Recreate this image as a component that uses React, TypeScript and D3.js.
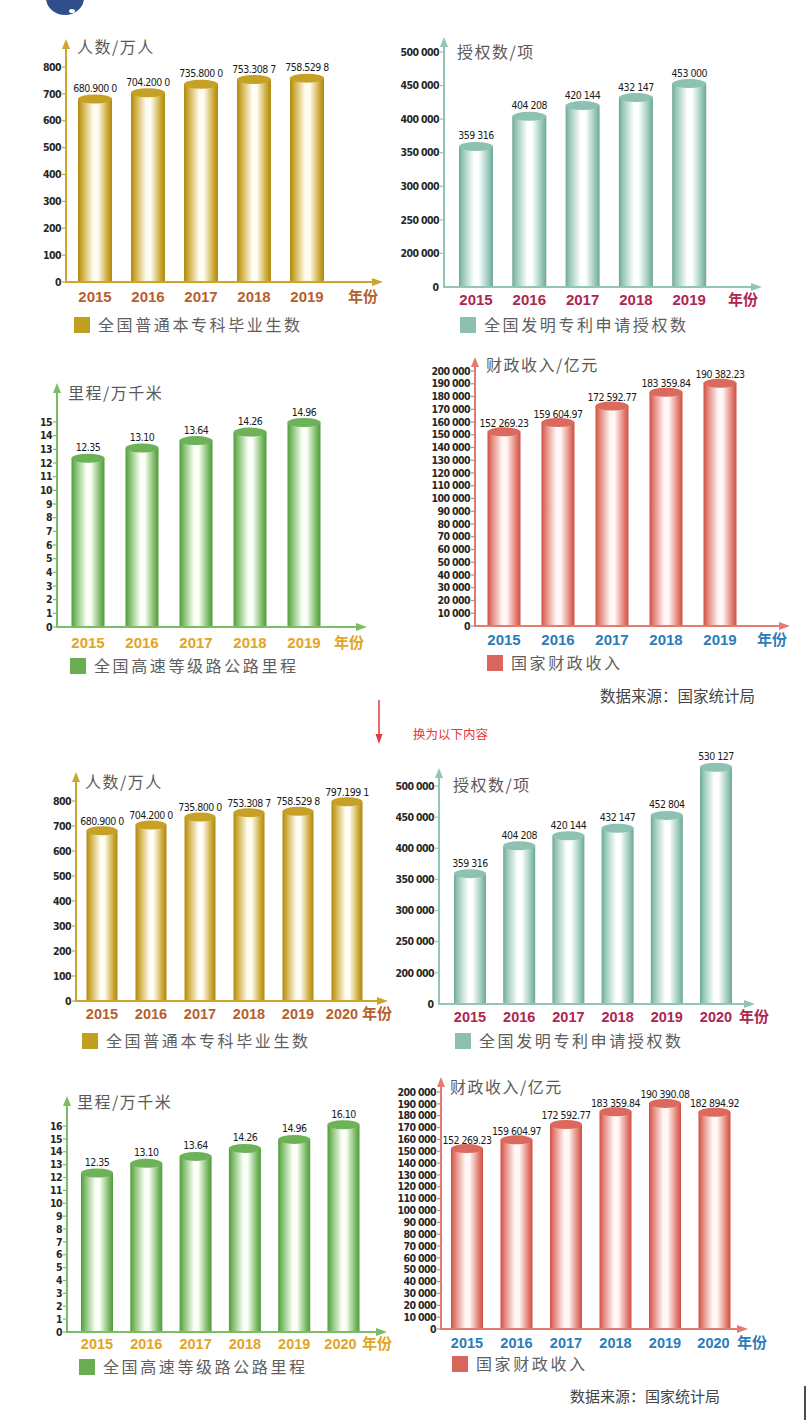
import * as d3 from 'd3'

// ---- data ----
const years5 = ['2015', '2016', '2017', '2018', '2019']
const years6 = ['2015', '2016', '2017', '2018', '2019', '2020']

const gradValues5 = [680.9, 704.2, 735.8, 753.3087, 758.5298]
const gradValues6 = [680.9, 704.2, 735.8, 753.3087, 758.5298, 797.1991]
const patentValues5 = [359316, 404208, 420144, 432147, 453000]
const patentValues6 = [359316, 404208, 420144, 432147, 452804, 530127]
const roadValues5 = [12.35, 13.1, 13.64, 14.26, 14.96]
const roadValues6 = [12.35, 13.1, 13.64, 14.26, 14.96, 16.1]
const revenueValues5 = [152269.23, 159604.97, 172592.77, 183359.84, 190382.23]
const revenueValues6 = [152269.23, 159604.97, 172592.77, 183359.84, 190390.08, 182894.92]

const gradTicks = [0, 100, 200, 300, 400, 500, 600, 700, 800]
const patentTicks = [200000, 250000, 300000, 350000, 400000, 450000, 500000]
const roadTicks5 = d3.range(0, 16)
const roadTicks6 = d3.range(0, 17)
const revenueTicks = d3.range(0, 200001, 10000)

const spaced = (v: number) => d3.format(',')(v).replace(/,/g, ' ')
const spaced2 = (v: number) => d3.format(',.2f')(v).replace(/,/g, ' ')
const grad4 = (v: number) => {
  const s = v.toFixed(4)
  return s.slice(0, -1) + ' ' + s.slice(-1)
}

const palettes: Record<string, any> = {
  gold: { dark: '#ad8916', base: '#c9a52e', light: '#fffdf3', cap: '#c6a126', axis: '#cba52c', legend: '#c0a01e', year: '#b5602d' },
  teal: { dark: '#6ea696', base: '#92c5b7', light: '#ffffff', cap: '#8dc1b2', axis: '#92c5b6', legend: '#8cbfb0', year: '#ae2650' },
  green: { dark: '#529a3d', base: '#76b760', light: '#fbfff7', cap: '#6db158', axis: '#7bbd66', legend: '#6aad55', year: '#e2a422' },
  red: { dark: '#cc5045', base: '#e1786d', light: '#fff8f6', cap: '#dc695e', axis: '#e27b70', legend: '#d8665b', year: '#2b7cbb' },
}

const charts = [
  { id: 'a', pal: 'gold', years: years5, values: gradValues5, fmt: grad4, ticks: gradTicks, tickFmt: String, domain: [0, 800], axisX: 66, baseY: 282, topY: 67, tipY: 39, tipX: 383, firstX: 95, step: 53, barW: 34, yearY: 302, lastShift: 0, unitX: 348, title: '人数/万人', titleX: 77, titleY: 53, legend: '全国普通本专科毕业生数', legX: 74, legY: 317, gap: 7 },
  { id: 'b', pal: 'teal', years: years5, values: patentValues5, fmt: spaced, ticks: patentTicks, tickFmt: spaced, domain: [150000, 500000], zero: true, axisX: 444, baseY: 287, topY: 52, tipY: 37, tipX: 762, firstX: 476, step: 53.3, barW: 34, yearY: 305, lastShift: 0, unitX: 728, title: '授权数/项', titleX: 457, titleY: 58, legend: '全国发明专利申请授权数', legX: 460, legY: 317, gap: 7 },
  { id: 'c', pal: 'green', years: years5, values: roadValues5, fmt: (v: number) => v.toFixed(2), ticks: roadTicks5, tickFmt: String, domain: [0, 15], axisX: 57, baseY: 627, topY: 422, tipY: 383, tipX: 367, firstX: 88, step: 54, barW: 33, yearY: 648, lastShift: 0, unitX: 334, title: '里程/万千米', titleX: 68, titleY: 399, legend: '全国高速等级路公路里程', legX: 70, legY: 658, gap: 7 },
  { id: 'd', pal: 'red', years: years5, values: revenueValues5, fmt: spaced2, ticks: revenueTicks, tickFmt: spaced, domain: [0, 200000], axisX: 475, baseY: 626, topY: 371, tipY: 357, tipX: 790, firstX: 504, step: 54, barW: 33, yearY: 645, lastShift: 0, unitX: 757, title: '财政收入/亿元', titleX: 486, titleY: 371, legend: '国家财政收入', legX: 487, legY: 655, gap: 5 },
  { id: 'e', pal: 'gold', years: years6, values: gradValues6, fmt: grad4, ticks: gradTicks, tickFmt: String, domain: [0, 800], axisX: 76, baseY: 1001, topY: 801, tipY: 772, tipX: 388, firstX: 102, step: 49, barW: 31, yearY: 1019, lastShift: -5, unitX: 362, title: '人数/万人', titleX: 85, titleY: 788, legend: '全国普通本专科毕业生数', legX: 82, legY: 1033, gap: 6 },
  { id: 'f', pal: 'teal', years: years6, values: patentValues6, fmt: spaced, ticks: patentTicks, tickFmt: spaced, domain: [150000, 500000], zero: true, axisX: 439, baseY: 1004, topY: 786, tipY: 768, tipX: 755, firstX: 470, step: 49.2, barW: 32, yearY: 1022, lastShift: 0, unitX: 739, title: '授权数/项', titleX: 453, titleY: 791, legend: '全国发明专利申请授权数', legX: 455, legY: 1033, gap: 7 },
  { id: 'g', pal: 'green', years: years6, values: roadValues6, fmt: (v: number) => v.toFixed(2), ticks: roadTicks6, tickFmt: String, domain: [0, 16], axisX: 67, baseY: 1332, topY: 1126, tipY: 1096, tipX: 387, firstX: 97, step: 49.3, barW: 32, yearY: 1349, lastShift: -3, unitX: 362, title: '里程/万千米', titleX: 77, titleY: 1108, legend: '全国高速等级路公路里程', legX: 79, legY: 1359, gap: 7 },
  { id: 'h', pal: 'red', years: years6, values: revenueValues6, fmt: spaced2, ticks: revenueTicks, tickFmt: spaced, domain: [0, 200000], axisX: 441, baseY: 1329, topY: 1092, tipY: 1077, tipX: 748, firstX: 467, step: 49.5, barW: 32, yearY: 1348, lastShift: -1, unitX: 737, title: '财政收入/亿元', titleX: 450, titleY: 1093, legend: '国家财政收入', legX: 452, legY: 1356, gap: 5 },
]

const numFont = '"DejaVu Sans Condensed", "DejaVu Sans", sans-serif'
const yearFont = '"Liberation Sans", Arial, sans-serif'
const cjkFont = '"Noto Sans CJK SC", sans-serif'

function CylinderChart({ cfg }: { cfg: any }) {
  const pal = palettes[cfg.pal]
  const y = d3.scaleLinear().domain(cfg.domain).range([cfg.baseY, cfg.topY])
  const x0 = cfg.firstX - cfg.step / 2
  const x = d3.scaleBand<string>().domain(cfg.years).range([x0, x0 + cfg.step * cfg.years.length])
  const cx = (yr: string) => (x(yr) ?? 0) + x.bandwidth() / 2
  const gid = `cyl-${cfg.id}`
  const w = cfg.barW
  const last = cfg.years.length - 1

  return (
    <g>
      <defs>
        <linearGradient id={gid} x1="0" x2="1" y1="0" y2="0">
          <stop offset="0" stopColor={pal.dark} />
          <stop offset="0.1" stopColor={pal.base} />
          <stop offset="0.45" stopColor={pal.light} />
          <stop offset="0.58" stopColor={pal.light} />
          <stop offset="0.88" stopColor={pal.base} />
          <stop offset="1" stopColor={pal.dark} />
        </linearGradient>
      </defs>

      {/* bars */}
      {cfg.years.map((yr: string, i: number) => {
        const top = y(cfg.values[i])
        return (
          <g key={yr}>
            <rect x={cx(yr) - w / 2} y={top} width={w} height={cfg.baseY - top} fill={`url(#${gid})`} />
            <ellipse cx={cx(yr)} cy={top} rx={w / 2} ry={4.5} fill={pal.cap} />
            <text x={cx(yr)} y={top - cfg.gap} textAnchor="middle" fontFamily={numFont} fontSize={10.5} letterSpacing={-0.5} fill="#1a1a1a">
              {cfg.fmt(cfg.values[i])}
            </text>
          </g>
        )
      })}

      {/* axes */}
      <line x1={cfg.axisX} x2={cfg.axisX} y1={cfg.baseY} y2={cfg.tipY + 6} stroke={pal.axis} strokeWidth={2} />
      <path d={`M${cfg.axisX},${cfg.tipY} L${cfg.axisX - 4},${cfg.tipY + 10} L${cfg.axisX + 4},${cfg.tipY + 10} Z`} fill={pal.axis} />
      <line x1={cfg.axisX - 1} x2={cfg.tipX - 6} y1={cfg.baseY} y2={cfg.baseY} stroke={pal.axis} strokeWidth={2} />
      <path d={`M${cfg.tipX},${cfg.baseY} L${cfg.tipX - 11},${cfg.baseY - 4} L${cfg.tipX - 11},${cfg.baseY + 4} Z`} fill={pal.axis} />

      {/* ticks */}
      {cfg.ticks.map((t: number) => (
        <g key={t} transform={`translate(0,${y(t)})`}>
          <line x1={cfg.axisX - 4} x2={cfg.axisX} stroke={pal.axis} strokeWidth={1.2} />
          <text x={cfg.axisX - 5} dy="0.35em" textAnchor="end" fontFamily={numFont} fontWeight="bold" fontSize={10.5} letterSpacing={-0.6} fill="#262626">
            {cfg.tickFmt(t)}
          </text>
        </g>
      ))}
      {cfg.zero && (
        <text x={cfg.axisX - 5} y={cfg.baseY} dy="0.35em" textAnchor="end" fontFamily={numFont} fontWeight="bold" fontSize={10.5} fill="#262626">0</text>
      )}

      {/* year labels */}
      {cfg.years.map((yr: string, i: number) => (
        <text key={yr} x={cx(yr) + (i === last ? cfg.lastShift : 0)} y={cfg.yearY} textAnchor="middle" fontFamily={yearFont} fontWeight="bold" fontSize={cfg.years.length > 5 ? 14.5 : 15} fill={pal.year}>
          {yr}
        </text>
      ))}
      <text x={cfg.unitX} y={cfg.yearY} fontFamily={cjkFont} fontWeight="bold" fontSize={15} fill={pal.year}>年份</text>

      {/* titles & legend */}
      <text x={cfg.titleX} y={cfg.titleY} fontFamily={cjkFont} fontSize={16} letterSpacing={1.5} fill="#5a5a5a">{cfg.title}</text>
      <rect x={cfg.legX} y={cfg.legY} width={16} height={16} fill={pal.legend} />
      <text x={cfg.legX + 24} y={cfg.legY + 14} fontFamily={cjkFont} fontSize={16} letterSpacing={2.6} fill="#5e5e5e">{cfg.legend}</text>
    </g>
  )
}

export default function App() {
  return (
    <svg width={809} height={1420} style={{ position: 'absolute', left: 0, top: 0, display: 'block', background: '#fff' }}>
      {/* logo fragment at top */}
      <ellipse cx={65} cy={-2} rx={19} ry={17} fill="#2e4f8c" />
      <ellipse cx={72} cy={11} rx={3} ry={2} fill="#fff" />

      {charts.map((c) => (
        <CylinderChart key={c.id} cfg={c} />
      ))}

      <text x={600} y={702} fontFamily={cjkFont} fontSize={15.5} fill="#444">数据来源：国家统计局</text>

      <line x1={379} x2={379} y1={700} y2={736} stroke="#e23b3b" strokeWidth={1.5} />
      <path d="M379,744 L375.5,734 L382.5,734 Z" fill="#e23b3b" />
      <text x={413} y={739} fontFamily={cjkFont} fontSize={12.5} fill="#e8363a">换为以下内容</text>

      <text x={570} y={1402} fontFamily={cjkFont} fontSize={15} fill="#444">数据来源：国家统计局</text>
      <line x1={805} x2={805} y1={1386} y2={1420} stroke="#111" strokeWidth={1.5} />
    </svg>
  )
}
